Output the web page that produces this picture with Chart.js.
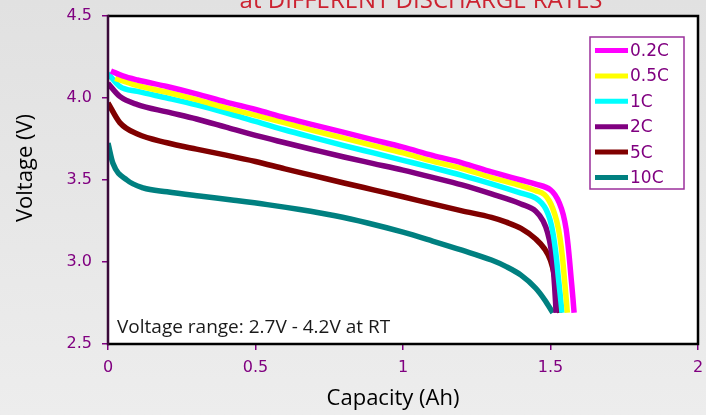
<!DOCTYPE html>
<html>
<head>
<meta charset="utf-8">
<script src="https://cdn.jsdelivr.net/npm/chart.js@4"></script>
<style>
  html, body { margin: 0; padding: 0; }
  body { width: 706px; height: 415px; background: linear-gradient(180deg, #e1e1e1 0%, #e8e8e8 60%, #ededed 100%); overflow: hidden; }
  #wrap { position: relative; width: 706px; height: 415px; }
</style>
</head>
<body>
<div id="wrap"><canvas id="c"></canvas></div>
<script>
// ---- data ----
const seriesLabels = ['0.2C', '0.5C', '1C', '2C', '5C', '10C'];
const seriesColors = ['#ff00ff', '#ffff00', '#00ffff', '#800080', '#800000', '#008080'];

const capacity02 = [0.01, 0.05, 0.1, 0.2, 0.3, 0.4, 0.5, 0.6, 0.7, 0.8, 0.9, 1.0, 1.1, 1.2, 1.3, 1.4, 1.45, 1.5, 1.515, 1.53, 1.543, 1.553, 1.562, 1.57, 1.576, 1.58];
const voltage02  = [4.165, 4.135, 4.11, 4.07, 4.025, 3.975, 3.93, 3.88, 3.835, 3.79, 3.745, 3.70, 3.65, 3.605, 3.55, 3.50, 3.475, 3.44, 3.41, 3.36, 3.29, 3.20, 3.06, 2.90, 2.78, 2.69];

const capacity05 = [0.024, 0.05, 0.1, 0.2, 0.3, 0.4, 0.5, 0.6, 0.7, 0.8, 0.9, 1.0, 1.1, 1.2, 1.3, 1.4, 1.45, 1.48, 1.495, 1.508, 1.521, 1.532, 1.541, 1.548, 1.553, 1.557];
const voltage05  = [4.12, 4.105, 4.075, 4.035, 3.99, 3.94, 3.895, 3.848, 3.80, 3.755, 3.71, 3.665, 3.615, 3.57, 3.515, 3.465, 3.435, 3.41, 3.375, 3.325, 3.25, 3.15, 3.02, 2.88, 2.78, 2.69];

const capacity1 = [0.0, 0.04, 0.1, 0.2, 0.3, 0.4, 0.5, 0.6, 0.7, 0.8, 0.9, 1.0, 1.1, 1.2, 1.3, 1.4, 1.45, 1.47, 1.485, 1.498, 1.509, 1.519, 1.527, 1.534, 1.539];
const voltage1  = [4.15, 4.07, 4.04, 4.0, 3.958, 3.91, 3.857, 3.805, 3.757, 3.71, 3.665, 3.62, 3.575, 3.528, 3.476, 3.42, 3.39, 3.36, 3.32, 3.26, 3.17, 3.04, 2.90, 2.78, 2.69];

const capacity2 = [0.0, 0.04, 0.1, 0.2, 0.3, 0.4, 0.5, 0.6, 0.7, 0.8, 0.9, 1.0, 1.1, 1.2, 1.3, 1.4, 1.45, 1.475, 1.49, 1.501, 1.509, 1.514, 1.517, 1.519];
const voltage2  = [4.09, 4.01, 3.96, 3.915, 3.872, 3.822, 3.772, 3.727, 3.683, 3.64, 3.60, 3.56, 3.516, 3.47, 3.415, 3.354, 3.31, 3.25, 3.18, 3.09, 2.97, 2.85, 2.76, 2.69];

const capacity5 = [0.0, 0.04, 0.1, 0.2, 0.3, 0.4, 0.5, 0.6, 0.7, 0.8, 0.9, 1.0, 1.1, 1.2, 1.3, 1.35, 1.4, 1.45, 1.48, 1.5, 1.513, 1.522, 1.528, 1.531];
const voltage5  = [3.97, 3.85, 3.78, 3.727, 3.688, 3.652, 3.613, 3.568, 3.525, 3.482, 3.44, 3.398, 3.354, 3.312, 3.272, 3.243, 3.205, 3.14, 3.08, 3.01, 2.92, 2.82, 2.74, 2.69];

const capacity10 = [0.0, 0.017, 0.064, 0.119, 0.2, 0.31, 0.42, 0.54, 0.65, 0.77, 0.88, 1.0, 1.1, 1.2, 1.3, 1.35, 1.4, 1.45, 1.48, 1.508];
const voltage10  = [3.725, 3.60, 3.50, 3.452, 3.428, 3.402, 3.378, 3.35, 3.32, 3.282, 3.238, 3.182, 3.128, 3.072, 3.012, 2.972, 2.92, 2.84, 2.77, 2.69];

const xTickLabels = ['0', '0.5', '1', '1.5', '2'];
const yTickLabels = ['2.5', '3.0', '3.5', '4.0', '4.5'];

const chartTitle = 'at DIFFERENT DISCHARGE RATES';
const xAxisTitle = 'Capacity (Ah)';
const yAxisTitle = 'Voltage (V)';
const noteText = 'Voltage range: 2.7V - 4.2V at RT';

const capacities = [capacity02, capacity05, capacity1, capacity2, capacity5, capacity10];
const voltages = [voltage02, voltage05, voltage1, voltage2, voltage5, voltage10];

const datasets = seriesLabels.map((label, s) => ({
  label,
  data: capacities[s].map((x, i) => ({ x, y: voltages[s][i] })),
  borderColor: seriesColors[s],
  backgroundColor: seriesColors[s],
  borderWidth: 5.5,
  pointRadius: 0,
  fill: false,
  cubicInterpolationMode: 'monotone',
  borderCapStyle: 'butt',
  borderJoinStyle: 'round'
}));

const TICK_COLOR = '#800080';

const decorPlugin = {
  id: 'decor',
  beforeDatasetsDraw(chart) {
    const { ctx, chartArea: a } = chart;
    ctx.save();
    ctx.fillStyle = '#ffffff';
    ctx.fillRect(a.left, a.top, a.right - a.left, a.bottom - a.top);
    ctx.restore();
  },
  afterDraw(chart) {
    const { ctx, chartArea: a } = chart;
    ctx.save();
    // frame
    ctx.strokeStyle = '#000000';
    ctx.lineWidth = 2.5;
    ctx.beginPath();
    ctx.moveTo(a.left, a.top);
    ctx.lineTo(a.right, a.top);
    ctx.lineTo(a.right, a.bottom);
    ctx.lineTo(a.left, a.bottom);
    ctx.stroke();
    ctx.strokeStyle = '#3a0a3a';
    ctx.lineWidth = 2.5;
    ctx.beginPath();
    ctx.moveTo(a.left, a.top - 1.25);
    ctx.lineTo(a.left, a.bottom + 1.25);
    ctx.stroke();

    // title (cut at top edge as in reference)
    ctx.fillStyle = '#cc2230';
    ctx.font = '24px "Open Sans"';
    ctx.textAlign = 'center';
    ctx.textBaseline = 'alphabetic';
    ctx.fillText(chartTitle, 421, 7.5);

    // axis titles
    ctx.fillStyle = '#000000';
    ctx.font = '22px "Open Sans"';
    ctx.textAlign = 'center';
    ctx.textBaseline = 'middle';
    ctx.fillText(xAxisTitle, 393, 399);
    ctx.save();
    ctx.translate(26, 168);
    ctx.rotate(-Math.PI / 2);
    ctx.fillText(yAxisTitle, 0, 0);
    ctx.restore();

    // note text
    ctx.fillStyle = '#1a1a1a';
    ctx.font = '19px "Open Sans"';
    ctx.textAlign = 'left';
    ctx.textBaseline = 'alphabetic';
    ctx.fillText(noteText, 117, 333);

    // legend
    const bx = 590, by = 37, bw = 94, bh = 152;
    ctx.fillStyle = '#ffffff';
    ctx.fillRect(bx, by, bw, bh);
    ctx.strokeStyle = '#9b2f9b';
    ctx.lineWidth = 1.5;
    ctx.strokeRect(bx, by, bw, bh);
    ctx.font = '17px "DejaVu Sans"';
    ctx.textBaseline = 'middle';
    chart.data.datasets.forEach((ds, i) => {
      const cy = 50.5 + i * 25.4;
      ctx.strokeStyle = ds.borderColor;
      ctx.lineWidth = 5;
      ctx.beginPath();
      ctx.moveTo(595, cy);
      ctx.lineTo(628, cy);
      ctx.stroke();
      ctx.fillStyle = TICK_COLOR;
      ctx.fillText(ds.label, 630, cy + 1);
    });
    ctx.restore();
  }
};

new Chart(document.getElementById('c'), {
  type: 'line',
  data: { datasets },
  plugins: [decorPlugin],
  options: {
    responsive: true,
    maintainAspectRatio: false,
    animation: false,
    layout: { padding: { top: 16, right: 8, left: 0, bottom: 0 } },
    plugins: {
      legend: { display: false },
      tooltip: { enabled: false },
      title: { display: false }
    },
    scales: {
      x: {
        type: 'linear',
        min: 0, max: 2,
        afterFit(scale) { scale.height = 71; scale.paddingLeft = 0; scale.paddingRight = 0; },
        ticks: {
          stepSize: 0.5,
          color: TICK_COLOR,
          font: { family: 'DejaVu Sans', size: 16 },
          padding: 8,
          maxRotation: 0,
          callback: (v, i) => xTickLabels[i]
        },
        grid: { drawOnChartArea: false, drawTicks: true, tickLength: 6, color: TICK_COLOR, lineWidth: 1.5 },
        border: { display: true, color: '#000000', width: 2 }
      },
      y: {
        type: 'linear',
        min: 2.5, max: 4.5,
        afterFit(scale) { scale.width = 108; scale.paddingTop = 0; scale.paddingBottom = 0; },
        ticks: {
          stepSize: 0.5,
          color: TICK_COLOR,
          font: { family: 'DejaVu Sans', size: 16 },
          padding: 10,
          callback: (v, i) => yTickLabels[i]
        },
        grid: { drawOnChartArea: false, drawTicks: true, tickLength: 6, color: TICK_COLOR, lineWidth: 1.5 },
        border: { display: true, color: '#3a0a3a', width: 2 }
      }
    }
  }
});
</script>
</body>
</html>
